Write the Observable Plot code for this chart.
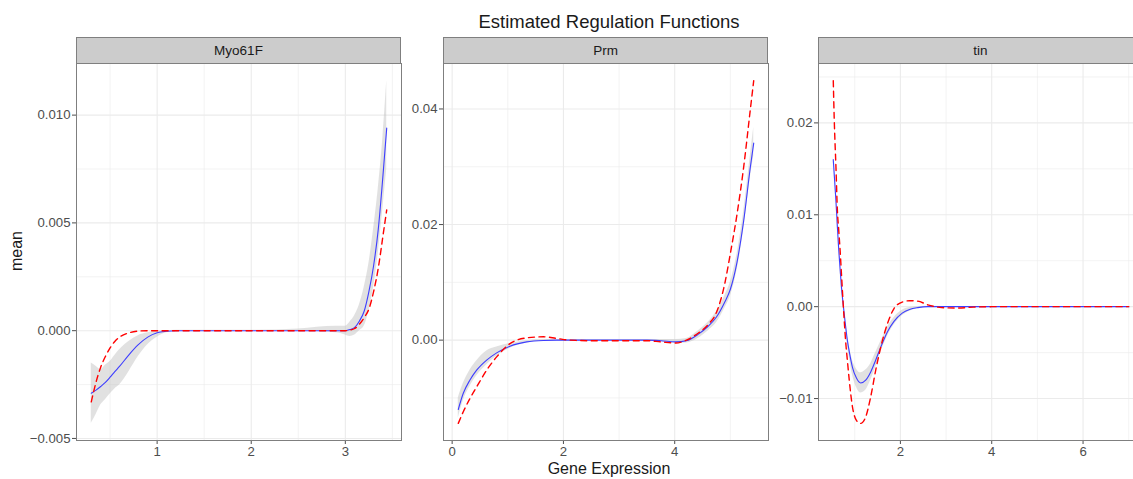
<!DOCTYPE html>
<html><head><meta charset="utf-8">
<script src="https://cdn.jsdelivr.net/npm/d3@7"></script>
<script src="https://cdn.jsdelivr.net/npm/@observablehq/plot@0.6"></script>
<style>
html,body{margin:0;padding:0;background:#fff;overflow:hidden;}
#root{position:relative;width:1133px;height:479px;overflow:hidden;font-family:"Liberation Sans",Arial,Helvetica,sans-serif;color:#1a1a1a;}
.strip{position:absolute;top:37px;height:26px;box-sizing:border-box;background:#cccccc;border:1px solid #7f7f7f;border-bottom:none;font-size:13.5px;color:#1a1a1a;display:flex;align-items:center;justify-content:center;}
.pwrap{position:absolute;}
#title{position:absolute;top:13px;left:609px;transform:translateX(-50%);font-size:18.5px;line-height:18.5px;white-space:nowrap;}
#xlab{position:absolute;top:461px;left:609px;transform:translateX(-50%);font-size:16px;line-height:16px;white-space:nowrap;}
#ylab{position:absolute;top:251px;left:17px;transform:translate(-50%,-50%) rotate(-90deg);font-size:16px;line-height:16px;white-space:nowrap;}
</style></head><body><div id="root">
<div id="title">Estimated Regulation Functions</div>
<div id="xlab">Gene Expression</div>
<div id="ylab">mean</div>
</div>
<script>
// ---------- data ----------
const panelNames = ["Myo61F", "Prm", "tin"];

// Myo61F
const myoX     = [0.30,0.35,0.40,0.45,0.50,0.55,0.60,0.70,0.80,0.90,1.00,1.10,1.20,1.50,2.00,2.50,2.90,3.00,3.05,3.10,3.15,3.20,3.25,3.30,3.35,3.40,3.44];
const myoMean  = [-0.0029,-0.00276,-0.00259,-0.0024,-0.00216,-0.0019,-0.00166,-0.00112,-0.00065,-0.0003,-0.0001,-0.00003,0,0,0,0,0,0,0.00005,0.00015,0.00045,0.0009,0.0018,0.0030,0.0047,0.0072,0.0094];
const myoUpper = [-0.0015,-0.00165,-0.0018,-0.0016,-0.00143,-0.00115,-0.00089,-0.0005,-0.00023,-0.0001,-0.00003,0,0.00002,0.00002,0.00002,0.00008,0.0002,0.0002,0.0004,0.0007,0.0012,0.0020,0.0031,0.0047,0.0066,0.0090,0.0116];
const myoLower = [-0.0043,-0.0039,-0.00345,-0.0032,-0.00294,-0.0027,-0.00252,-0.0019,-0.0012,-0.00065,-0.0003,-0.0001,-0.00003,-0.00002,-0.00002,-0.00002,-0.0001,-0.0002,-0.00027,-0.0002,0.0000,0.0002,0.0009,0.0020,0.0036,0.0057,0.0075];
const myoTruth = [-0.0033,-0.0024,-0.0017,-0.0012,-0.0008,-0.0005,-0.0003,-0.0001,-0.00002,0,0,0,0,0,0,0,0,0,0.00003,0.0001,0.0003,0.0006,0.0010,0.0018,0.0029,0.0044,0.0056];
const myoXTicks = [1, 2, 3];
const myoXMinor = [0.5, 1.5, 2.5, 3.5];
const myoYTicks = [-0.005, 0, 0.005, 0.010];
const myoYMinor = [-0.0025, 0.0025, 0.0075];

// Prm
const prmX     = [0.11,0.2,0.32,0.44,0.62,0.8,1.04,1.34,1.64,1.88,2.12,2.5,3.0,3.5,3.75,4.02,4.21,4.42,4.6,4.75,4.9,5.0,5.12,5.24,5.36,5.42];
const prmMean  = [-0.0120,-0.0092,-0.0069,-0.0052,-0.00345,-0.0022,-0.00104,-0.0003,-0.00005,0,0,0,0,0,-0.0001,-0.0003,-0.0001,0.0010,0.0024,0.0040,0.0066,0.0088,0.0135,0.0207,0.0300,0.0341];
const prmUpper = [-0.0100,-0.0075,-0.0052,-0.0036,-0.0019,-0.0012,-0.0006,-0.0001,0.0001,0.0001,0.0001,0.0001,0.0001,0.0001,0.0001,0.0001,0.0003,0.0016,0.0031,0.0049,0.0077,0.0100,0.0149,0.0223,0.0320,0.0368];
const prmLower = [-0.0135,-0.0105,-0.0080,-0.0062,-0.0043,-0.0028,-0.0014,-0.0005,-0.0002,-0.0001,-0.0001,-0.0001,-0.0001,-0.0001,-0.0003,-0.0006,-0.0005,0.0003,0.0016,0.0030,0.0055,0.0076,0.0121,0.0191,0.0282,0.0318];
const prmTruth = [-0.0144,-0.0124,-0.0101,-0.0081,-0.0052,-0.0029,-0.0006,0.0004,0.00058,0.0003,0,-0.0001,-0.0001,-0.0001,-0.0003,-0.0005,0,0.0012,0.0027,0.0048,0.0098,0.0150,0.0218,0.0300,0.0400,0.0449];
const prmXTicks = [0, 2, 4];
const prmXMinor = [1, 3, 5];
const prmYTicks = [0, 0.02, 0.04];
const prmYMinor = [-0.01, 0.01, 0.03];

// tin
const tinX     = [0.53,0.55,0.59,0.62,0.65,0.68,0.71,0.74,0.77,0.80,0.84,0.88,0.95,1.04,1.13,1.24,1.35,1.46,1.57,1.72,1.86,2.04,2.2,2.38,2.6,2.9,3.25,3.6,4,5,6,7];
const tinMean  = [0.0160,0.0145,0.0114,0.0087,0.0062,0.0041,0.0021,0.0006,-0.0008,-0.0021,-0.0037,-0.0049,-0.0066,-0.0078,-0.0083,-0.0080,-0.0071,-0.0058,-0.0044,-0.0027,-0.0016,-0.0007,-0.0003,-0.0001,0,0,0,0,0,0,0,0];
const tinUpper = [0.0163,0.0148,0.0117,0.0090,0.0065,0.0044,0.0024,0.0009,-0.0004,-0.0017,-0.0032,-0.0043,-0.0058,-0.0068,-0.0072,-0.0069,-0.0062,-0.0050,-0.0038,-0.0022,-0.0012,-0.0004,-0.0001,0,0.00005,0.00003,0.00003,0.00003,0.00003,0.00003,0.00003,0.00003];
const tinLower = [0.0157,0.0142,0.0111,0.0084,0.0059,0.0038,0.0018,0.0003,-0.0012,-0.0025,-0.0042,-0.0055,-0.0074,-0.0088,-0.0094,-0.0091,-0.0080,-0.0066,-0.0050,-0.0032,-0.0020,-0.0010,-0.0005,-0.0002,-0.00005,-0.00003,-0.00003,-0.00003,-0.00003,-0.00003,-0.00003,-0.00003];
const tinTruth = [0.0246,0.0206,0.0150,0.0105,0.0083,0.0061,0.0035,0.0009,-0.0015,-0.0037,-0.0059,-0.0080,-0.0109,-0.0124,-0.0127,-0.0120,-0.0098,-0.0069,-0.0044,-0.0018,-0.0002,0.0005,0.00065,0.0006,0.0002,-0.0001,-0.00015,-0.00005,0,0,0,0];
const tinXTicks = [2, 4, 6];
const tinXMinor = [1, 3, 5, 7];
const tinYTicks = [-0.01, 0, 0.01, 0.02];
const tinYMinor = [-0.005, 0.005, 0.015, 0.025];

// ---------- layout ----------
const PANEL_W = 325, PANEL_H = 377, PANEL_TOP = 63, MB = 30;
const panels = [
  {name: panelNames[0], left: 76,  marginLeft: 76, x: myoX, mean: myoMean, upper: myoUpper, lower: myoLower, truth: myoTruth,
   xTicks: myoXTicks, xMinor: myoXMinor, yTicks: myoYTicks, yMinor: myoYMinor, yFmt: ".3f"},
  {name: panelNames[1], left: 443, marginLeft: 40, x: prmX, mean: prmMean, upper: prmUpper, lower: prmLower, truth: prmTruth,
   xTicks: prmXTicks, xMinor: prmXMinor, yTicks: prmYTicks, yMinor: prmYMinor, yFmt: ".2f"},
  {name: panelNames[2], left: 818, marginLeft: 48, x: tinX, mean: tinMean, upper: tinUpper, lower: tinLower, truth: tinTruth,
   xTicks: tinXTicks, xMinor: tinXMinor, yTicks: tinYTicks, yMinor: tinYMinor, yFmt: ".2f"}
];

function expand(vals) {
  const [a, b] = d3.extent(vals);
  const p = (b - a) * 0.05;
  return [a - p, b + p];
}

const root = document.getElementById("root");
const gridColor = "#ebebeb";
const curve = "monotone-x";

for (const cfg of panels) {
  const rows = cfg.x.map((x, i) => ({x, mean: cfg.mean[i], lower: cfg.lower[i], upper: cfg.upper[i], truth: cfg.truth[i]}));
  const xd = expand(cfg.x);
  const yd = expand([...cfg.lower, ...cfg.upper, ...cfg.mean, ...cfg.truth]);
  const marginRight = 4;
  const chart = Plot.plot({
    width: cfg.marginLeft + PANEL_W + marginRight,
    height: PANEL_H + MB,
    marginLeft: cfg.marginLeft,
    marginRight,
    marginTop: 0,
    marginBottom: MB,
    style: {background: "transparent", maxWidth: "none", overflow: "visible",
            fontFamily: "'Liberation Sans', Arial, Helvetica, sans-serif", fontSize: "13.2px", color: "#4d4d4d"},
    x: {domain: xd, ticks: cfg.xTicks, tickFormat: d3.format("d"), tickSize: 4, tickPadding: 2, label: null},
    y: {domain: yd, ticks: cfg.yTicks, tickFormat: d3.format(cfg.yFmt), tickSize: 4, tickPadding: 2, label: null},
    marks: [
      Plot.ruleX(cfg.xMinor, {stroke: gridColor, strokeWidth: 0.6}),
      Plot.ruleY(cfg.yMinor, {stroke: gridColor, strokeWidth: 0.6}),
      Plot.ruleX(cfg.xTicks, {stroke: gridColor, strokeWidth: 1.1}),
      Plot.ruleY(cfg.yTicks, {stroke: gridColor, strokeWidth: 1.1}),
      Plot.areaY(rows, {x: "x", y1: "lower", y2: "upper", fill: "#bdbdbd", fillOpacity: 0.45, curve}),
      Plot.line(rows, {x: "x", y: "mean", stroke: "#3d3dff", strokeWidth: 1.1, curve}),
      Plot.line(rows, {x: "x", y: "truth", stroke: "#ff0000", strokeWidth: 1.4, strokeDasharray: "6,4.5", curve}),
      Plot.frame({stroke: "#7f7f7f"})
    ]
  });
  const wrap = document.createElement("div");
  wrap.className = "pwrap";
  wrap.style.left = (cfg.left - cfg.marginLeft) + "px";
  wrap.style.top = PANEL_TOP + "px";
  wrap.appendChild(chart);
  root.appendChild(wrap);

  const strip = document.createElement("div");
  strip.className = "strip";
  strip.style.left = cfg.left + "px";
  strip.style.width = PANEL_W + "px";
  strip.textContent = cfg.name;
  root.appendChild(strip);
}
</script></body></html>
